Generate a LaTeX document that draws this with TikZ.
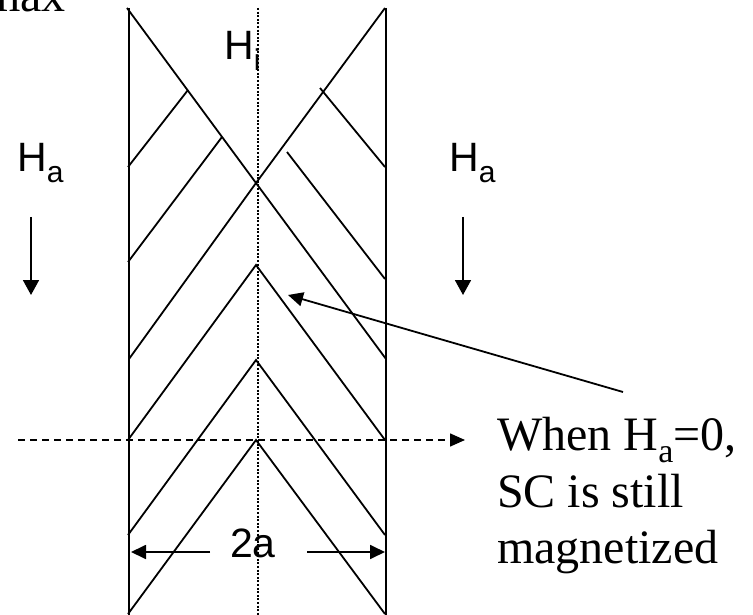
\documentclass[tikz,border=0pt]{standalone}
\usepackage{fontspec}
\setmainfont{Liberation Serif}
\newfontfamily\arialfont{Liberation Sans}
\usetikzlibrary{arrows.meta,positioning}

\tikzset{
  slab/.style={line width=1.8pt},
  front/.style={line width=1.8pt},
  midline/.style={line width=2pt, dash pattern=on 2pt off 1.6pt},
  cutline/.style={line width=1.5pt, dash pattern=on 7pt off 5pt, -{Triangle[length=15pt,width=13pt]}},
  fieldarrow/.style={line width=1.8pt, -{Triangle[length=15pt,width=16pt]}},
  dimarrow/.style={line width=1.8pt, -{Triangle[length=15pt,width=14pt]}},
  lbl/.style={inner sep=0pt, anchor=base west, font=\arialfont\fontsize{41}{41}\selectfont},
  note/.style={inner sep=0pt, anchor=base west, font=\fontsize{48}{57}\selectfont},
}
\newcommand{\lblsub}[1]{\raisebox{-11pt}{\fontsize{30}{30}\selectfont #1}}
\newcommand{\notesub}[1]{\raisebox{-12pt}{\fontsize{34}{34}\selectfont #1}}

\begin{document}
\begin{tikzpicture}[x=1pt,y=-1pt]
        \useasboundingbox (0,0) rectangle (753,615);
        \clip (0,0) rectangle (753,615);

        % Cut line through the slab
        \coordinate (cutL) at (18,440);
        \coordinate (cutR) at (465,440);
        \draw[cutline] (cutL) -- (cutR);

        % Field fronts: the big cross
        \coordinate (cross) at (256,183);
        \draw[front] (127,8) -- (cross) -- (386,359);
        \draw[front] (385,8) -- (cross) -- (129,359);

        % Short fronts near the surfaces
        \draw[front] (188,90) -- (128,167);
        \draw[front] (222,137) -- (128,262);
        \draw[front] (320,88) -- (385,167);
        \draw[front] (287,152) -- (385,279);

        % Trapped flux chevrons
        \foreach \ya/\yb in {265/440, 360/535, 440/614}
            \draw[front] (128,\yb) -- (256,\ya) -- (385,\yb);

        % Slab surfaces and centre line
        \draw[slab] (129,8) -- (129,615);
        \draw[slab] (386,8) -- (386,615);
        \draw[midline] (258,8) -- (258,615);

        % Labels
        \node[note, anchor=base east] (hmax) at (66,12) {max};
        \node[lbl] (hi) at (224,60) {H\lblsub{i}};
        \node[lbl] (haleft) at (17,172) {H\lblsub{a}};
        \node[lbl] (haright) at (449,172) {H\lblsub{a}};
        \node[lbl, anchor=base] (width) at (253,557) {2a};

        % Applied field arrows
        \coordinate (faL) at (31,217);
        \coordinate (fbL) at (31,295);
        \coordinate (faR) at (463,217);
        \coordinate (fbR) at (463,295);
        \draw[fieldarrow] (faL) -- (fbL);
        \draw[fieldarrow] (faR) -- (fbR);

        % Width arrows
        \coordinate (wl) at (131,552);
        \coordinate (wr) at (385,552);
        \draw[dimarrow] (210,552) -- (wl);
        \draw[dimarrow] (307,552) -- (wr);

        % Remanent state note
        \node[note] (when) at (497,450) {When H\notesub{a}=0,};
        \node[note] (still) at (497,507) {SC is still};
        \node[note] (magn) at (497,563) {magnetized};
        \coordinate (notetail) at (623,392);
        \coordinate (remanent) at (288,295);
        \draw[fieldarrow, -{Triangle[length=15pt,width=14pt]}] (notetail) -- (remanent);
    \end{tikzpicture}
\end{document}
